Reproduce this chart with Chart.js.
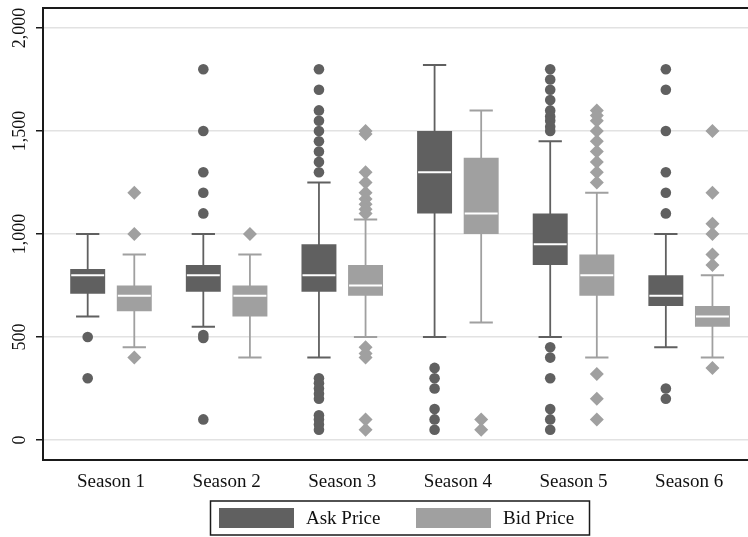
<!DOCTYPE html>
<html>
<head>
<meta charset="utf-8">
<script src="https://cdn.jsdelivr.net/npm/chart.js@4.4.1/dist/chart.umd.min.js"></script>
<style>
  html, body { margin: 0; padding: 0; background: #fff; }
  #wrap { width: 748px; height: 537px; position: relative; }
</style>
</head>
<body>
<div id="wrap"><canvas id="chart"></canvas></div>
<script>
// categories and tick labels
const seasons = ['Season 1', 'Season 2', 'Season 3', 'Season 4', 'Season 5', 'Season 6'];
const yTicks = [0, 500, 1000, 1500, 2000];

// ask price boxes (whisker low, q1, median, q3, whisker high) and outliers
const askLow = [600, 550, 400, 500, 500, 450];
const askQ1 = [710, 720, 720, 1100, 850, 650];
const askMedian = [800, 800, 800, 1300, 950, 700];
const askQ3 = [830, 850, 950, 1500, 1100, 800];
const askHigh = [1000, 1000, 1250, 1820, 1450, 1000];
const askOutliers = [
    [500, 300],
    [1800, 1500, 1300, 1200, 1100, 510, 495, 100],
    [1800, 1700, 1600, 1550, 1500, 1450, 1400, 1350, 1300, 300, 275, 250, 225, 200, 120, 100, 75, 50],
    [350, 300, 250, 150, 100, 50],
    [1800, 1750, 1700, 1650, 1600, 1570, 1550, 1520, 1500, 450, 400, 300, 150, 100, 50],
    [1800, 1700, 1500, 1300, 1200, 1100, 250, 200]
];

// bid price boxes and outliers
const bidLow = [450, 400, 500, 570, 400, 400];
const bidQ1 = [625, 600, 700, 1000, 700, 550];
const bidMedian = [700, 700, 750, 1100, 800, 600];
const bidQ3 = [750, 750, 850, 1370, 900, 650];
const bidHigh = [900, 900, 1070, 1600, 1200, 800];
const bidOutliers = [
    [1200, 1000, 400],
    [1000],
    [1500, 1485, 1300, 1250, 1200, 1170, 1145, 1120, 1100, 450, 420, 400, 100, 50],
    [100, 50],
    [1600, 1575, 1550, 1500, 1450, 1400, 1350, 1300, 1250, 320, 200, 100],
    [1500, 1200, 1050, 1000, 900, 850, 350]
];

const FONT = 'Liberation Serif, Times New Roman, serif';
const AXIS = '#1a1a1a';

const boxSeries = [
    { label: 'Ask Price', color: '#606060', low: askLow, q1: askQ1, med: askMedian, q3: askQ3, high: askHigh, out: askOutliers, marker: 'circle' },
    { label: 'Bid Price', color: '#a0a0a0', low: bidLow, q1: bidQ1, med: bidMedian, q3: bidQ3, high: bidHigh, out: bidOutliers, marker: 'diamond' }
];

const boxPlot = {
    id: 'boxPlot',
    beforeDatasetsDraw(chart) {
        const { ctx } = chart;
        const y = chart.scales.y;
        boxSeries.forEach((s, d) => {
            const meta = chart.getDatasetMeta(d);
            ctx.save();
            ctx.strokeStyle = s.color;
            meta.data.forEach((bar, i) => {
                const cap = bar.width / 3;
                const yHi = y.getPixelForValue(s.high[i]);
                const yLo = y.getPixelForValue(s.low[i]);
                ctx.lineWidth = 1.8;
                ctx.beginPath();
                ctx.moveTo(bar.x, yHi);
                ctx.lineTo(bar.x, yLo);
                ctx.stroke();
                ctx.lineWidth = 2;
                ctx.beginPath();
                ctx.moveTo(bar.x - cap, yHi); ctx.lineTo(bar.x + cap, yHi);
                ctx.moveTo(bar.x - cap, yLo); ctx.lineTo(bar.x + cap, yLo);
                ctx.stroke();
            });
            ctx.restore();
        });
    },
    afterDatasetsDraw(chart) {
        const { ctx } = chart;
        const y = chart.scales.y;
        boxSeries.forEach((s, d) => {
            const meta = chart.getDatasetMeta(d);
            ctx.save();
            meta.data.forEach((bar, i) => {
                // median line
                const ym = y.getPixelForValue(s.med[i]);
                ctx.strokeStyle = '#ffffff';
                ctx.lineWidth = 2;
                ctx.beginPath();
                ctx.moveTo(bar.x - bar.width / 2 + 1, ym);
                ctx.lineTo(bar.x + bar.width / 2 - 1, ym);
                ctx.stroke();
                // outliers
                ctx.fillStyle = s.color;
                s.out[i].forEach(v => {
                    const py = y.getPixelForValue(v);
                    ctx.beginPath();
                    if (s.marker === 'circle') {
                        ctx.arc(bar.x, py, 5.3, 0, Math.PI * 2);
                    } else {
                        ctx.moveTo(bar.x, py - 7);
                        ctx.lineTo(bar.x + 7, py);
                        ctx.lineTo(bar.x, py + 7);
                        ctx.lineTo(bar.x - 7, py);
                        ctx.closePath();
                    }
                    ctx.fill();
                });
            });
            ctx.restore();
        });
    },
    afterDraw(chart) {
        const { ctx, chartArea } = chart;
        const y = chart.scales.y;
        ctx.save();
        // top frame line
        ctx.strokeStyle = AXIS;
        ctx.lineWidth = 2;
        ctx.beginPath();
        ctx.moveTo(chartArea.left - 1, chartArea.top);
        ctx.lineTo(chartArea.right, chartArea.top);
        ctx.stroke();

        // rotated y tick labels
        ctx.fillStyle = '#111';
        ctx.font = '18px ' + FONT;
        ctx.textAlign = 'center';
        ctx.textBaseline = 'alphabetic';
        yTicks.forEach(v => {
            ctx.save();
            ctx.translate(25, y.getPixelForValue(v));
            ctx.rotate(-Math.PI / 2);
            ctx.fillText(v.toLocaleString('en-US'), 0, 0);
            ctx.restore();
        });

        // legend
        ctx.lineWidth = 1.5;
        ctx.strokeRect(210.5, 501, 379, 34);
        ctx.font = '19px ' + FONT;
        ctx.textAlign = 'left';
        ctx.textBaseline = 'middle';
        let lx = 219;
        boxSeries.forEach(s => {
            ctx.fillStyle = s.color;
            ctx.fillRect(lx, 508, 75, 20);
            ctx.fillStyle = '#111';
            ctx.fillText(s.label, lx + 87, 519);
            lx += 197;
        });
        ctx.restore();
    }
};

new Chart(document.getElementById('chart'), {
    type: 'bar',
    data: {
        datasets: boxSeries.map(s => ({
            label: s.label,
            data: seasons.map((_, i) => ({ x: i + 1, y: [s.q1[i], s.q3[i]] })),
            backgroundColor: s.color,
            borderWidth: 0,
            categoryPercentage: 0.806,
            barPercentage: 0.75
        }))
    },
    options: {
        responsive: true,
        maintainAspectRatio: false,
        animation: false,
        layout: { padding: { left: 36, top: 8, right: 0, bottom: 0 } },
        plugins: { legend: { display: false }, tooltip: { enabled: false } },
        scales: {
            x: {
                type: 'linear',
                offset: false,
                min: 0.412,
                max: 6.509,
                afterBuildTicks: s => { s.ticks = seasons.map((_, i) => ({ value: i + 1 })); },
                afterFit: s => { s.height = 77; },
                ticks: {
                    callback: v => seasons[v - 1],
                    font: { family: FONT, size: 19 },
                    color: '#111',
                    padding: 11,
                    autoSkip: false,
                    maxRotation: 0
                },
                grid: { display: false, drawTicks: false },
                border: { display: true, color: AXIS, width: 2 }
            },
            y: {
                min: -97,
                max: 2097,
                afterBuildTicks: s => { s.ticks = yTicks.map(v => ({ value: v })); },
                afterFit: s => { s.width = 7; },
                ticks: { display: false },
                grid: { color: '#e2e2e2', lineWidth: 1.5, tickLength: 7, tickColor: AXIS, tickWidth: 1.5 },
                border: { display: true, color: AXIS, width: 2 }
            }
        }
    },
    plugins: [boxPlot]
});
</script>
</body>
</html>
